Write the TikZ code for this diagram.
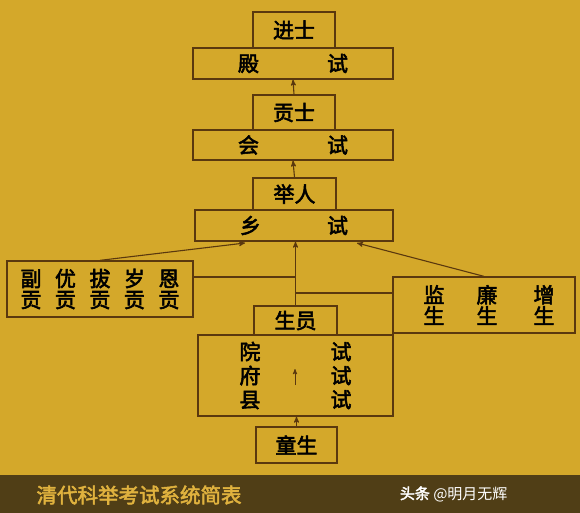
\documentclass[tikz,border=0pt]{standalone}
\usepackage{fontspec}
\newfontfamily\cjk[FakeBold=2.6]{Noto Sans CJK SC}
\newfontfamily\cjklight{Noto Sans CJK SC}
\usetikzlibrary{arrows}
\definecolor{bggold}{RGB}{212,168,42}
\definecolor{linebrown}{RGB}{90,56,14}
\definecolor{bandbrown}{RGB}{80,62,22}
\definecolor{titlegold}{RGB}{224,178,62}
\tikzset{
    %Define standard arrow tip
    >=stealth',
    %Define style for boxes
    kasten/.style={
           rectangle,
           draw=linebrown, line width=1.3pt,
           inner sep=0pt,
           font=\cjk\fontsize{21}{24}\selectfont,
           text=black,
           align=center},
    % Define arrow style
    pil/.style={
           ->,
           draw=linebrown,
           line width=1.1pt},
    linie/.style={
           draw=linebrown,
           line width=1.1pt}
}
\begin{document}
\begin{tikzpicture}[x=1pt,y=-1pt]
 \fill[bggold] (0,0) rectangle (580,513);
 \useasboundingbox (0,0) rectangle (580,513);
 \fill[bandbrown] (0,475) rectangle (580,513);

 %nodes
\node[kasten, minimum width=82pt, minimum height=36pt] (jinshi) at (294,30) {进士};
\node[kasten, minimum width=200pt, minimum height=31pt] (dianshi) at (293,63.5) {殿\hspace{68pt}试};
\node[kasten, minimum width=82pt, minimum height=35pt] (gongshi) at (294,112.5) {贡士};
\node[kasten, minimum width=200pt, minimum height=30pt] (huishi) at (293,145) {会\hspace{68pt}试};
\node[kasten, minimum width=83pt, minimum height=32pt] (juren) at (294.5,194) {举人};
\node[kasten, minimum width=198pt, minimum height=31pt] (xiangshi) at (294,225.5) {乡\hspace{66pt}试};
\node[kasten, minimum width=186pt, minimum height=56pt] (fugong) at (100,289)
  {副\hspace{13.5pt}优\hspace{13.5pt}拔\hspace{13.5pt}岁\hspace{13.5pt}恩\\[-3pt]
   贡\hspace{13.5pt}贡\hspace{13.5pt}贡\hspace{13.5pt}贡\hspace{13.5pt}贡};
\node[kasten, minimum width=182pt, minimum height=56pt] (jiansheng) at (484,305)
  {\hspace*{10pt}监\hspace{32pt}廉\hspace{36pt}增\\[-3pt]
   \hspace*{10pt}生\hspace{32pt}生\hspace{36pt}生};
\node[kasten, minimum width=83pt, minimum height=29pt] (shengyuan) at (295.5,320.5) {生员};
\node[kasten, minimum width=195pt, minimum height=81pt] (yuanshi) at (295.5,375.5)
  {院\hspace{70pt}试\\[0pt] 府\hspace{70pt}试\\[0pt] 县\hspace{70pt}试};
\node[kasten, minimum width=81pt, minimum height=36pt] (tongsheng) at (296.5,445) {童生};

\node[anchor=west, text=titlegold, font=\cjk\fontsize{20.5}{24}\selectfont] (titel) at (33,495) {清代科举考试系统简表};
\node[anchor=east, text=white, font=\cjklight\fontsize{15}{16}\selectfont] (marke) at (511,494) {{\cjk 头条} @明月无辉};

 %connectors
\coordinate (xl) at (245,243);
\coordinate (xr) at (357,243);
\coordinate (ljoin) at (295,277);
\coordinate (rjoin) at (295,293);
\coordinate (inbot) at (295,385);
\coordinate (intop) at (295,369);

\draw[pil] (gongshi.north) -- (dianshi.south);
\draw[pil] (juren.north) -- (huishi.south);
\draw[pil] (shengyuan.north) -- (shengyuan.north |- xiangshi.south);
\draw[pil] (fugong.north) -- (xl);
\draw[pil] (jiansheng.north) -- (xr);
\draw[linie] (fugong.east |- ljoin) -- (ljoin);
\draw[linie] (rjoin) -- (rjoin -| jiansheng.west);
\draw[pil, line width=0.9pt] (inbot) -- (intop);
\draw[pil] (tongsheng.north) -- (yuanshi.south -| tongsheng.north);

\end{tikzpicture}
\end{document}
